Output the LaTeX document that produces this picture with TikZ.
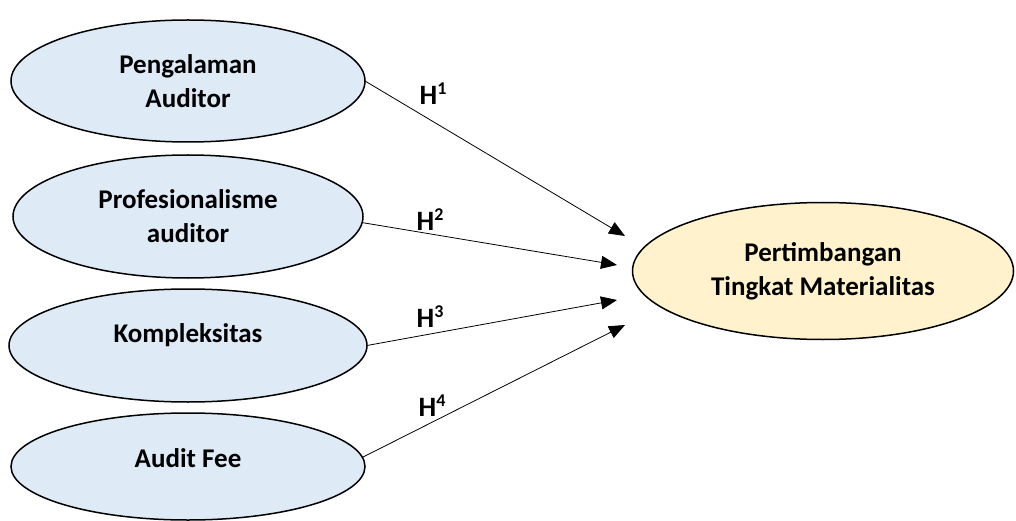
\documentclass[tikz,border=0pt]{standalone}
\usepackage{fontspec}
\setmainfont{Carlito}
\usetikzlibrary{positioning,shapes.geometric,arrows.meta}
\definecolor{varblue}{HTML}{DEEBF7}
\definecolor{varyellow}{HTML}{FFF2CC}
\newcommand{\hypsup}[1]{\raisebox{10pt}{\fontsize{18}{18}\selectfont #1}}
\tikzset{
  var/.style={ellipse,draw,line width=1.5pt,fill=varblue,outer sep=0pt,
    minimum width=354pt,align=center,font=\fontsize{27}{34}\selectfont\bfseries},
  goal/.style={var,fill=varyellow,minimum width=381pt,minimum height=137pt},
  hyp/.style={inner sep=0pt,font=\fontsize{28}{34}\selectfont\bfseries},
  link/.style={-{Triangle[length=16pt,width=13pt]},line width=0.8pt}
}

\begin{document}
\begin{tikzpicture}[x=1pt,y=1pt]
                \useasboundingbox (0,0) rectangle (1016,-521);
                \node[var,minimum height=122pt](pa) at (188,-81){Pengalaman\\Auditor};
                \node[var,minimum height=123pt,minimum width=350pt](pr)[below =13pt of pa]{Profesionalisme\\auditor};
                \node[var,minimum height=113pt,minimum width=358pt,text depth=25pt](ko)[below =11pt of pr]{Kompleksitas};
                \node[var,minimum height=107pt,text depth=16pt](af)[below =11pt of ko]{Audit Fee};
                \node[goal](pt) at (823,-271){Pertimbangan\\Tingkat Materialitas};
                \coordinate (t1) at ([shift={(-7.5pt,35pt)}]pt.west);
                \coordinate (t2) at ([shift={(-15.5pt,6pt)}]pt.west);
                \coordinate (t3) at ([shift={(-15.5pt,-29pt)}]pt.west);
                \coordinate (t4) at ([shift={(-7.5pt,-54pt)}]pt.west);
                \path[link](pa.east) edge (t1)
                           (pr.-2) edge (t2)
                           (ko.east) edge (t3)
                           (af.3) edge (t4);
                \node[hyp](h1) at (433,-94){H\hypsup{1}};
                \node[hyp](h2) at (430,-220){H\hypsup{2}};
                \node[hyp](h3) at (430,-317){H\hypsup{3}};
                \node[hyp](h4) at (432,-406){H\hypsup{4}};
\end{tikzpicture}
\end{document}
